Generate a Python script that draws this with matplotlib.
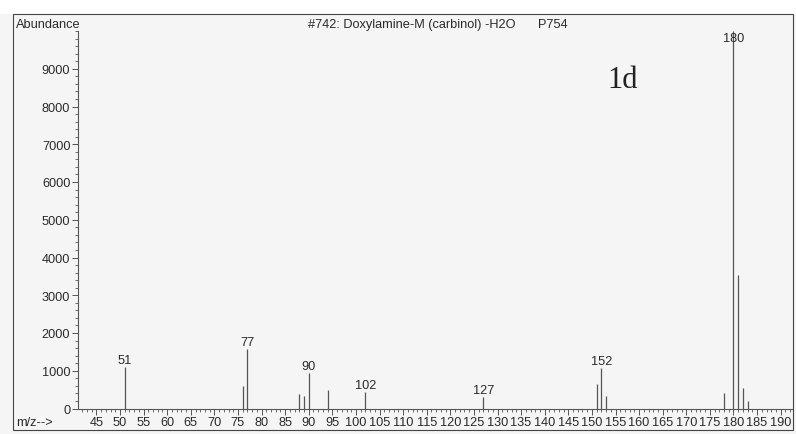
import matplotlib
matplotlib.use("Agg")
import matplotlib.pyplot as plt
from matplotlib.patches import Rectangle
from matplotlib.ticker import MultipleLocator

# peak list
mz = [51, 76, 77, 88, 89, 90, 94, 102, 127, 151, 152, 153, 178, 180, 181, 182, 183]
abundance = [1090, 590, 1570, 385, 330, 940, 490, 430, 300, 650, 1070, 340, 400, 9990, 3530, 540, 210]
labelled = [51, 77, 90, 102, 127, 152, 180]

title = "#742: Doxylamine-M (carbinol) -H2O"
library_id = "P754"

plt.rcParams["font.family"] = ["Liberation Sans", "DejaVu Sans"]
ink = "#2a2a2a"
peak_color = "#555555"
fs = 9.2

fig = plt.figure(figsize=(7.96, 4.35), dpi=100, facecolor="#f5f5f5")
W, H = 796, 435

# outer box of the printout
fig.patches.append(Rectangle((13 / W, 1 - 431 / H), 780 / W, 416 / H,
                             transform=fig.transFigure, fill=False,
                             edgecolor="#444444", linewidth=0.8))
fig.patches.append(Rectangle((0, 1 - 15 / H), 1, 15 / H, transform=fig.transFigure,
                             facecolor="white", edgecolor="none", zorder=-1))

ax = fig.add_axes([78 / W, 1 - 409.5 / H, 714 / W, (409.5 - 32) / H])
ax.set_facecolor("none")

ax.vlines(mz, 0, abundance, colors=peak_color, linewidth=0.9)
for x, y in zip(mz, abundance):
    if x not in labelled:
        continue
    if x == 180:
        # base peak label sits on the line, just under the top
        ax.annotate(str(x), (x, y), textcoords="offset points", xytext=(0, -4.5),
                    ha="center", va="center", fontsize=fs, color=ink)
    else:
        ax.annotate(str(x), (x, y), textcoords="offset points", xytext=(0, 1),
                    ha="center", va="bottom", fontsize=fs, color=ink)

ax.set_xlim(41.1, 192.4)
ax.set_ylim(0, 10000)

for side in ("top", "right"):
    ax.spines[side].set_visible(False)
for side in ("left", "bottom"):
    ax.spines[side].set_color("#555555")
    ax.spines[side].set_linewidth(0.8)

ax.xaxis.set_minor_locator(MultipleLocator(1))
ax.yaxis.set_minor_locator(MultipleLocator(200))
ax.set_xticks(range(45, 191, 5))
ax.set_yticks(range(0, 9001, 1000))
ax.tick_params(axis="both", which="major", labelsize=fs, labelcolor=ink, color="#555555",
               width=0.7, length=4, pad=1.5)
ax.tick_params(axis="both", which="minor", color="#555555", width=0.6, length=2.5)

fig.text(16 / W, 1 - 25 / H, "Abundance", fontsize=fs, color=ink, va="center", ha="left")
fig.text(308 / W, 1 - 25 / H, title, fontsize=fs, color=ink, va="center", ha="left")
fig.text(538 / W, 1 - 25 / H, library_id, fontsize=fs, color=ink, va="center", ha="left")
fig.text(16 / W, 1 - 423 / H, "m/z-->", fontsize=fs, color=ink, va="center", ha="left")
fig.text(623 / W, 1 - 80 / H, "1d", fontsize=22, color="#222222", va="center", ha="center",
         family=["Liberation Serif", "DejaVu Serif"])

fig.savefig("out.png", dpi=100, facecolor=fig.get_facecolor())
